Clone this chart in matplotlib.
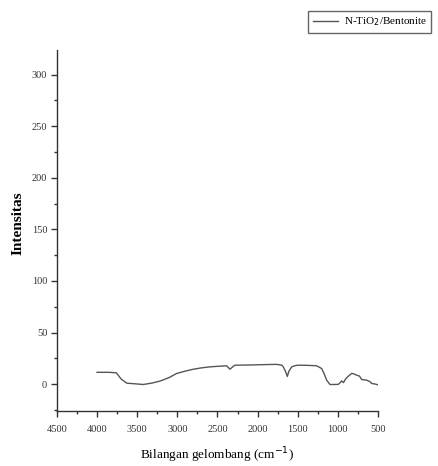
import matplotlib.pyplot as plt
from matplotlib.ticker import MultipleLocator

# FTIR spectrum of N-TiO2/Bentonite
wavenumber = [4000, 3850, 3760, 3700, 3630, 3550, 3425, 3320, 3216, 3100, 3008,
              2900, 2801, 2700, 2593, 2480, 2385, 2344, 2300, 2282, 2100, 1900,
              1762, 1700, 1680, 1650, 1630, 1610, 1575, 1530, 1497, 1400, 1300,
              1264, 1202, 1170, 1140, 1098, 1050, 995, 970, 953, 930, 900, 870,
              828, 800, 766, 730, 703, 641, 600, 579, 540, 500]
intensity = [11.5, 11.5, 11.0, 5.0, 1.0, 0.5, -0.3, 1.0, 3.0, 6.5, 10.4,
             12.7, 14.5, 15.8, 16.8, 17.4, 17.8, 14.5, 17.5, 18.4, 18.6, 19.0,
             19.2, 18.5, 16.8, 12.0, 7.5, 12.5, 16.8, 18.0, 18.4, 18.3, 18.0,
             17.8, 15.2, 10.0, 3.9, -0.3, -0.3, -0.2, 1.5, 3.2, 1.5, 5.5, 7.7,
             10.4, 10.0, 8.7, 7.8, 4.5, 3.9, 2.5, 0.7, 0.2, -0.6]

plt.rcParams['font.family'] = ['Liberation Serif', 'DejaVu Serif']

fig = plt.figure(figsize=(4.38, 4.66), dpi=100)
ax = fig.add_axes([0.130, 0.118, 0.733, 0.775])

ax.plot(wavenumber, intensity, color='#555555', linewidth=1.0, label='N-TiO$_2$/Bentonite')

ax.set_xlim(4500, 500)
ax.set_ylim(-26, 324)
ax.xaxis.set_major_locator(MultipleLocator(500))
ax.xaxis.set_minor_locator(MultipleLocator(250))
ax.yaxis.set_major_locator(MultipleLocator(50))
ax.yaxis.set_minor_locator(MultipleLocator(25))

ax.spines['top'].set_visible(False)
ax.spines['right'].set_visible(False)
for s in ['left', 'bottom']:
    ax.spines[s].set_linewidth(1.0)
    ax.spines[s].set_color('#333333')

ax.tick_params(which='major', direction='out', length=4, width=1, labelsize=7.5,
               colors='#333333')
ax.tick_params(axis='x', which='major', pad=6)
ax.tick_params(axis='y', which='major', pad=3)
ax.tick_params(which='minor', direction='out', length=2.5, width=1, colors='#333333')

ax.set_xlabel('Bilangan gelombang (cm$^{-1}$)', fontsize=9.5)
ax.set_ylabel('Intensitas', fontsize=11, fontweight='bold')
ax.xaxis.set_label_coords(0.5, -0.095)
ax.yaxis.set_label_coords(-0.10, 0.52)

fig.legend(loc='upper right', bbox_to_anchor=(0.997, 0.988), fontsize=8,
           frameon=True, fancybox=False, edgecolor='#666666', handlelength=2.3,
           borderpad=0.4, handletextpad=0.5, framealpha=1)

fig.savefig('out.png', dpi=100)
